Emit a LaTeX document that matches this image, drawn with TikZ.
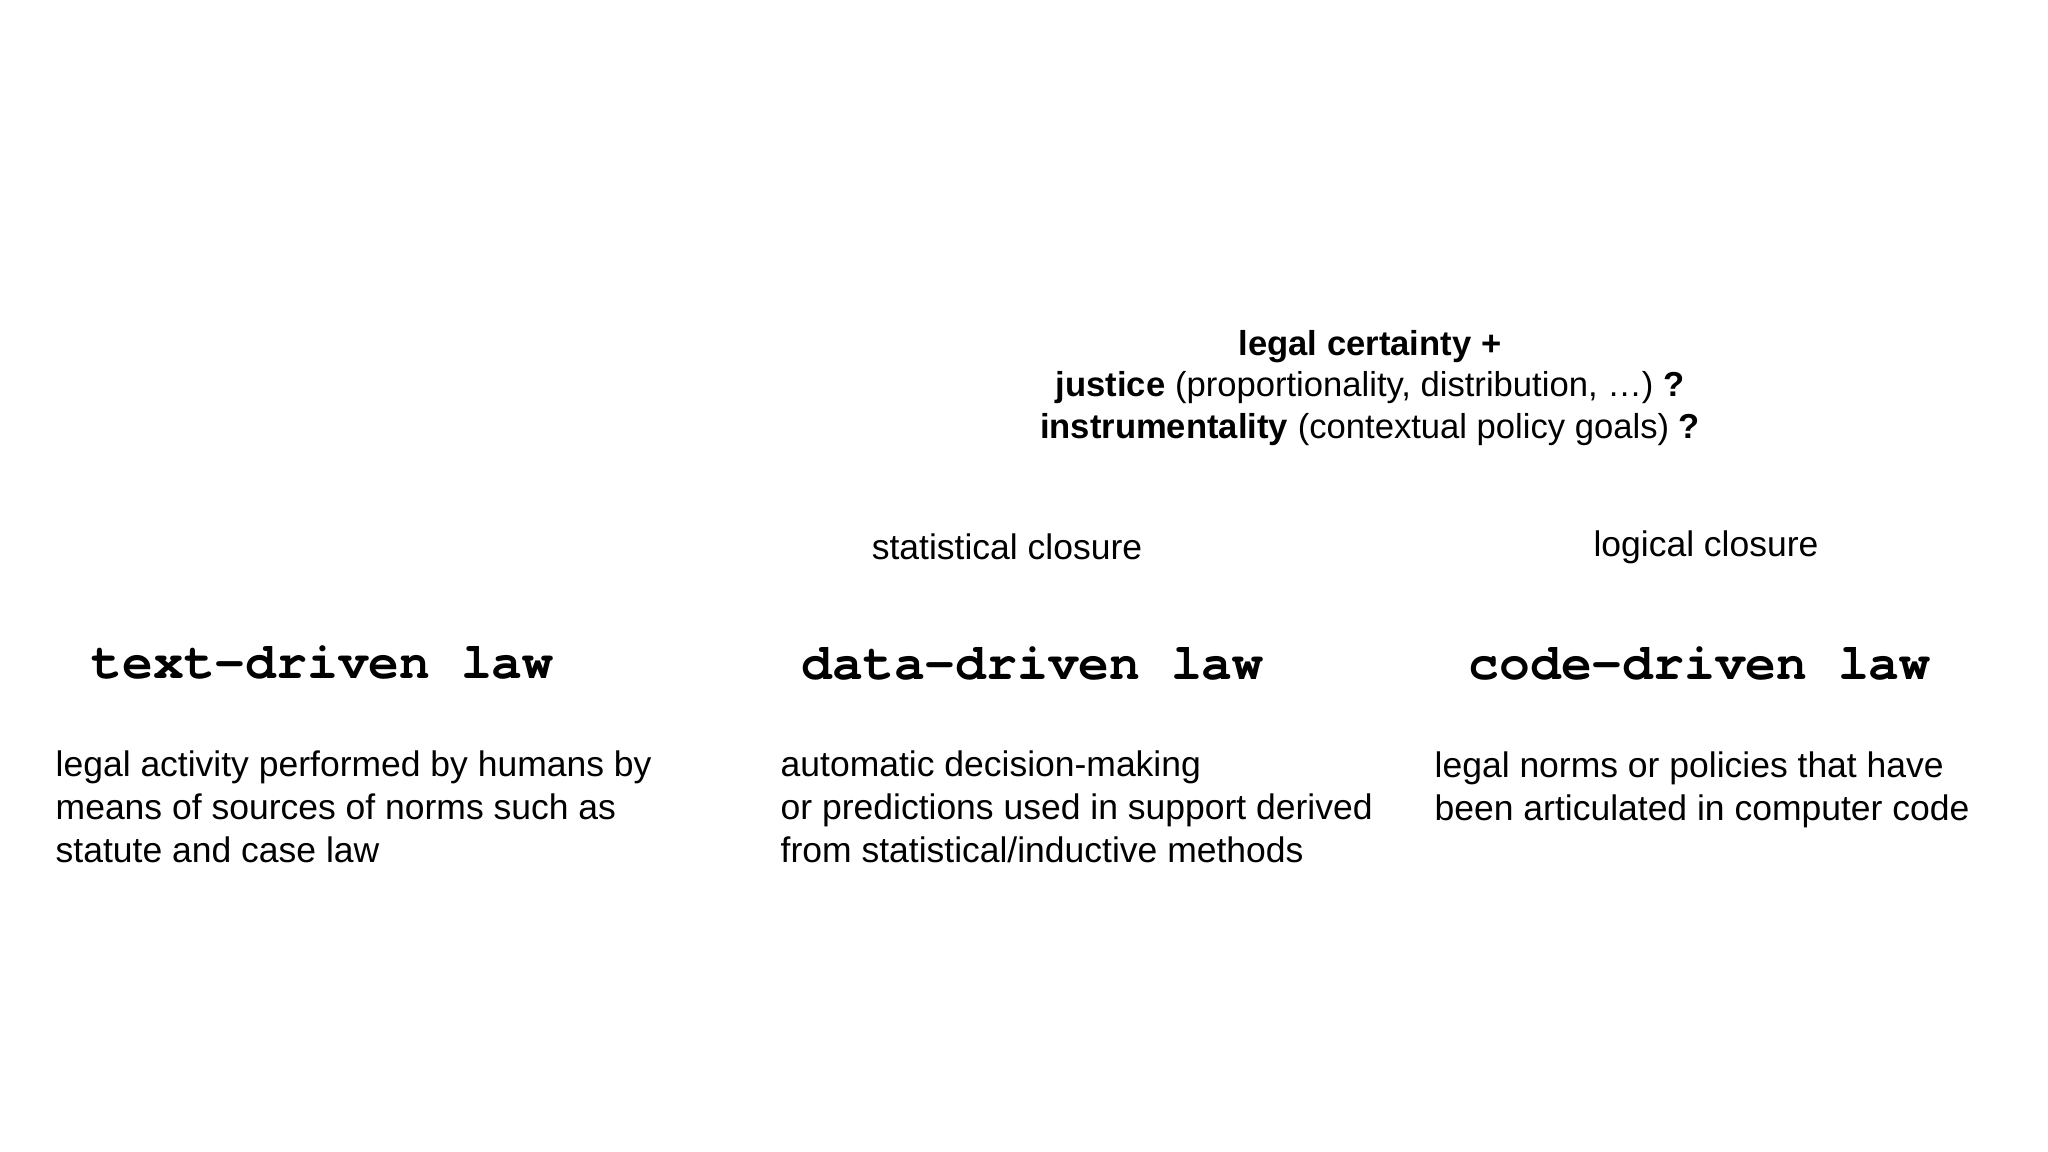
\documentclass[tikz,border=0pt]{standalone}
\usepackage{fontspec}
\setmainfont{Liberation Sans}
\setmonofont{texgyrecursor-regular.otf}[BoldFont=texgyrecursor-bold.otf]
\usepackage{tikz}

\begin{document}
\begin{tikzpicture}[
    every node/.style={inner sep=0pt, text=black},
    head/.style={font=\ttfamily\bfseries\fontsize{14.6}{17}\selectfont, anchor=west},
    desc/.style={font=\fontsize{10.1}{12.2}\selectfont, align=left, anchor=west},
    note/.style={font=\fontsize{10.1}{12.2}\selectfont}
  ]
  \useasboundingbox (0,0) rectangle (20.48,-11.52);
  % question at the top
  \node[note, align=center, font=\fontsize{9.85}{11.75}\selectfont] (goals) at (13.70,-3.88)
    {\textbf{legal certainty +}\\
     \textbf{justice} (proportionality, distribution, \dots) \textbf{?}\\
     \textbf{instrumentality} (contextual policy goals) \textbf{?}};
  \node[note] (stat) at (10.07,-5.47) {statistical closure};
  \node[note] (logic) at (17.06,-5.47) {logical closure};
  % the three kinds of law
  \node[head] (text) at (0.91,-6.62) {text-driven law};
  \node[head] (data) at (8.01,-6.63) {data-driven law};
  \node[head] (code) at (14.68,-6.63) {code-driven law};
  \node[desc] (textdesc) at (0.55,-8.07) {legal activity performed by humans by\\
    means of sources of norms such as\\
    statute and case law};
  \node[desc] (datadesc) at (7.80,-8.07) {automatic decision-making\\
    or predictions used in support derived\\
    from statistical/inductive methods};
  \node[desc] (codedesc) at (14.34,-7.90) {legal norms or policies that have\\
    been articulated in computer code};
\end{tikzpicture}
\end{document}
